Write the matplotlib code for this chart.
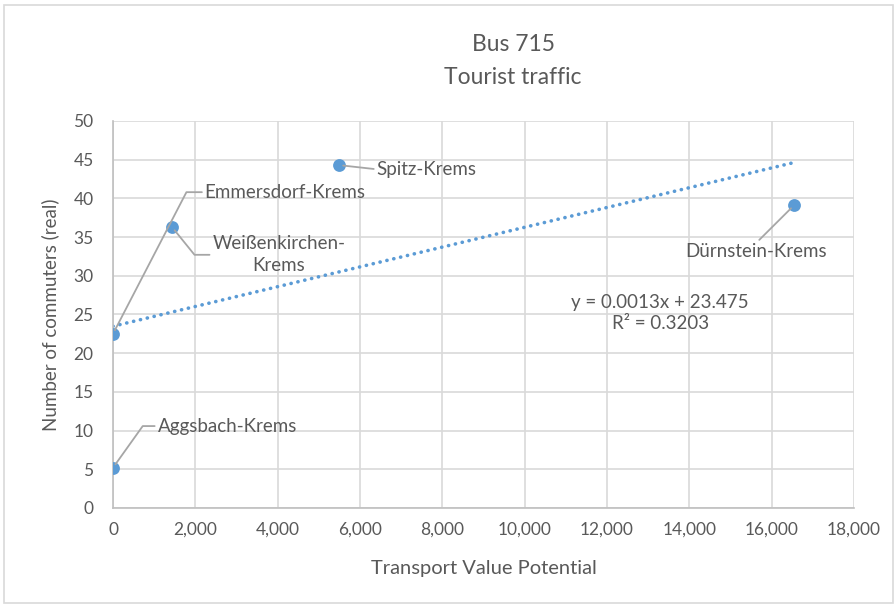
import numpy as np
import matplotlib
matplotlib.use("Agg")
import matplotlib.pyplot as plt
from matplotlib.patches import Rectangle

# Daten
routes = ["Emmersdorf-Krems", "Weißenkirchen-\nKrems", "Aggsbach-Krems", "Spitz-Krems", "Dürnstein-Krems"]
potential = [0, 1433, 0, 5490, 16541]
commuters = [22.5, 36.3, 5.2, 44.3, 39.1]

x_ticks = [0, 2000, 4000, 6000, 8000, 10000, 12000, 14000, 16000, 18000]
y_ticks = [0, 5, 10, 15, 20, 25, 30, 35, 40, 45, 50]

blue = "#5B9BD5"
grey = "#595959"
plt.rcParams['font.family'] = ['Lato', 'DejaVu Sans']

fig = plt.figure(figsize=(8.94, 6.08), dpi=100)
ax = fig.add_axes([0.1264, 0.1645, 0.8289, 0.6365])

# Rahmen um das Diagramm
fig.patches.append(Rectangle((0.005, 0.008), 0.994, 0.984, transform=fig.transFigure,
                             fill=False, edgecolor="#D9D9D9", linewidth=1.2))

ax.scatter(potential, commuters, s=85, color=blue, zorder=3, linewidths=0)

# lineare Trendlinie
k, d = np.polyfit(potential, commuters, 1)
xs = np.array([0, max(potential)])
ax.plot(xs, k * xs + d, color=blue, linestyle=(0, (0.05, 1.9)), linewidth=2.6,
        dash_capstyle='round', zorder=2)

# Beschriftungen mit Führungslinien
fs = 13.5
lead = dict(arrowstyle='-', color="#A6A6A6", linewidth=1.3, shrinkA=0, shrinkB=3)
ax.annotate(routes[0], (potential[0], commuters[0]), xytext=(66, 102), textcoords='offset points',
            ha='left', va='center', fontsize=fs, color=grey,
            arrowprops=dict(lead, relpos=(0, 0.5), connectionstyle="angle,angleA=0,angleB=62.6,rad=0"))
ax.annotate(routes[1], (potential[1], commuters[1]), xytext=(29, -20), textcoords='offset points',
            ha='left', va='center', multialignment='center', fontsize=fs, color=grey, linespacing=1.35,
            arrowprops=dict(lead, relpos=(0, 0.5), connectionstyle="angle,angleA=0,angleB=-51,rad=0"))
ax.annotate(routes[2], (potential[2], commuters[2]), xytext=(32, 30), textcoords='offset points',
            ha='left', va='center', fontsize=fs, color=grey,
            arrowprops=dict(lead, relpos=(0, 0.5), connectionstyle="angle,angleA=0,angleB=54.5,rad=0"))
ax.annotate(routes[3], (potential[3], commuters[3]), xytext=(27, -3), textcoords='offset points',
            ha='left', va='center', fontsize=fs, color=grey,
            arrowprops=dict(lead, relpos=(0, 0.5)))
ax.annotate(routes[4], (potential[4], commuters[4]), xytext=(-27, -33), textcoords='offset points',
            ha='center', va='center', fontsize=fs, color=grey,
            arrowprops=dict(lead, relpos=(0.5, 1.0)))

ax.text(13290, 25.2, "y = 0.0013x + 23.475\nR² = 0.3203", ha='center', va='center',
        fontsize=fs, color=grey, linespacing=1.3)

ax.set_xlim(0, 18000)
ax.set_ylim(0, 50)
ax.set_xticks(x_ticks)
ax.set_yticks(y_ticks)
ax.set_xticklabels([f"{v:,}" for v in x_ticks])
ax.tick_params(length=0, labelsize=12.5, labelcolor=grey, pad=10)
ax.tick_params(axis='y', pad=14)
ax.grid(True, color="#D9D9D9", linewidth=1.2)
ax.set_axisbelow(True)
for s in ["top", "right"]:
    ax.spines[s].set_visible(False)
for s in ["left", "bottom"]:
    ax.spines[s].set_color("#BFBFBF")
    ax.spines[s].set_linewidth(1.2)

ax.set_xlabel("Transport Value Potential", fontsize=14.5, color=grey, labelpad=16)
ax.set_ylabel("Number of commuters (real)", fontsize=13.5, color=grey, labelpad=10)
fig.text(0.574, 0.927, "Bus 715", ha='center', va='center', fontsize=16.5, color=grey)
fig.text(0.574, 0.873, "Tourist traffic", ha='center', va='center', fontsize=16.5, color=grey)

fig.savefig("out.png", dpi=100)
